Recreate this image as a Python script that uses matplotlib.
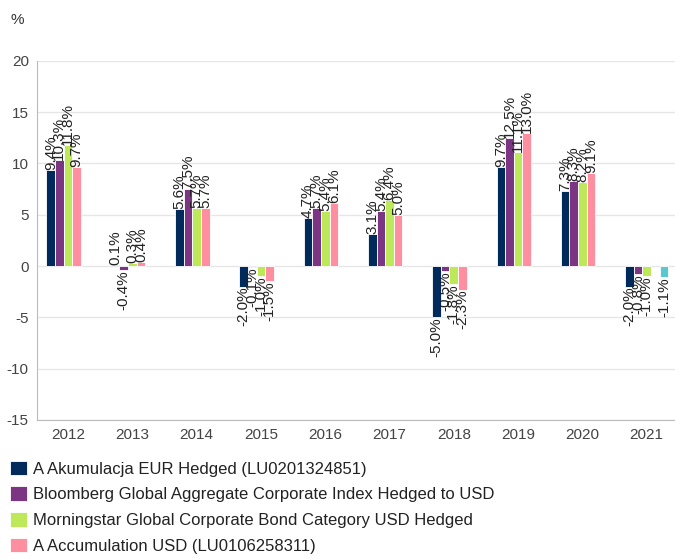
import numpy as np
import matplotlib
matplotlib.use('Agg')
from matplotlib import pyplot as plt

plt.rcParams['font.family'] = ['Liberation Sans', 'DejaVu Sans']
plt.rcParams['axes.unicode_minus'] = False

years = ['2012', '2013', '2014', '2015', '2016', '2017', '2018', '2019', '2020', '2021']
fund_eur = [9.4, 0.1, 5.6, -2.0, 4.7, 3.1, -5.0, 9.7, 7.3, -2.0]
bloomberg = [10.3, -0.4, 7.5, -0.1, 5.7, 5.4, -0.5, 12.5, 8.3, -0.8]
morningstar = [11.8, 0.3, 5.7, -1.0, 5.4, 6.4, -1.8, 11.1, 8.2, -1.0]
fund_usd = [9.7, 0.4, 5.7, -1.5, 6.1, 5.0, -2.3, 13.0, 9.1, np.nan]
extra = [np.nan] * 9 + [-1.1]

names = ['A Akumulacja EUR Hedged (LU0201324851)',
         'Bloomberg Global Aggregate Corporate Index Hedged to USD',
         'Morningstar Global Corporate Bond Category USD Hedged',
         'A Accumulation USD (LU0106258311)',
         None]
colors = ['#002a5c', '#7b3583', '#bde85a', '#ff8fa0', '#5bc8d0']
series = [fund_eur, bloomberg, morningstar, fund_usd, extra]

fig = plt.figure(figsize=(6.75, 5.59), dpi=100)
ax = fig.add_axes([0.055, 0.249, 0.945, 0.642])

x = np.arange(len(years))
w = 0.134
handles = []
for i in range(len(series)):
    vals = np.array(series[i], dtype=float)
    b = ax.bar(x + (i - 2) * w, vals, w, color=colors[i], edgecolor='white', lw=0.6,
               label=names[i], zorder=3)
    if names[i]:
        handles.append(b)
    for xi, v in zip(x, vals):
        if np.isnan(v):
            continue
        ax.text(xi + (i - 2) * w, v, '%.1f%%' % v, rotation=90, ha='center',
                va='bottom' if v >= 0 else 'top', fontsize=11, color='#222222', zorder=4)

ax.set_ylim(-15, 20)
ax.set_yticks(range(-15, 21, 5))
ax.set_xlim(-0.48, 9.44)
ax.set_xticks(x)
ax.set_xticklabels(years)
ax.tick_params(length=0, labelsize=11, colors='#444444', pad=6)
ax.grid(axis='y', color='#e6e6e6', lw=1, zorder=0)
for s in ['top', 'right']:
    ax.spines[s].set_visible(False)
for s in ['left', 'bottom']:
    ax.spines[s].set_color('#bbbbbb')
fig.text(0.016, 0.965, '%', fontsize=11, color='#333333', va='center')

fig.legend(handles=handles, loc='upper left', bbox_to_anchor=(0.005, 0.188), frameon=False,
           fontsize=12, handlelength=1.0, handleheight=1.0, handletextpad=0.35,
           labelspacing=0.57, borderaxespad=0, labelcolor='#222222')

fig.savefig('out.png', dpi=100)
